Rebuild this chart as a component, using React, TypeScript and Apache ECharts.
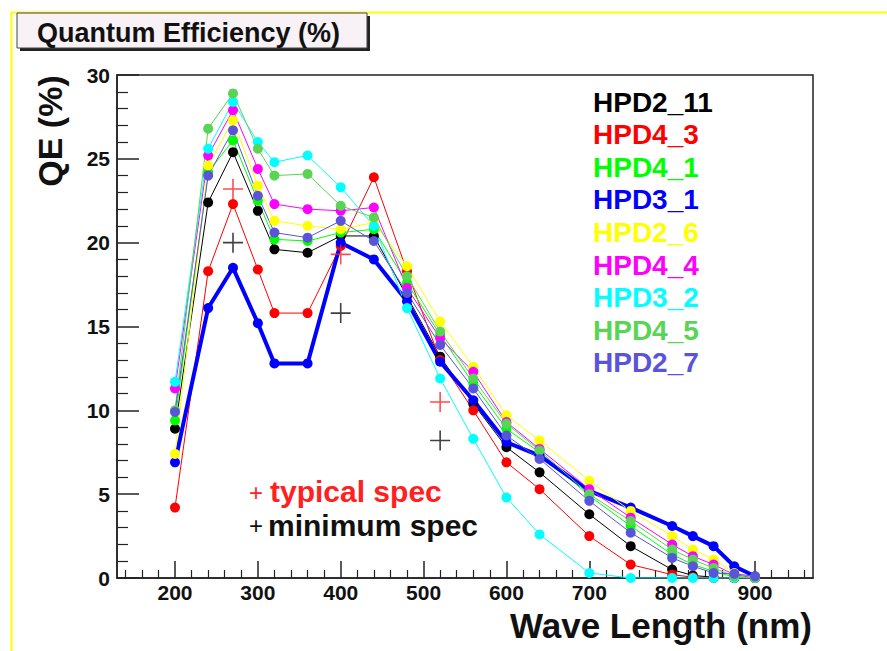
import React, { useEffect, useRef } from "react";
import * as echarts from "echarts";

// Wavelengths (nm) of the measured points
const wavelengths = [200, 240, 270, 300, 320, 360, 400, 440, 480, 520, 560, 600, 640, 700, 750, 800, 825, 850, 875, 900];

const seriesNames = ["HPD2_11", "HPD4_3", "HPD4_1", "HPD3_1", "HPD2_6", "HPD4_4", "HPD3_2", "HPD4_5", "HPD2_7"];
const seriesColors = ["#000000", "#ff0000", "#00ff00", "#0000ff", "#ffff00", "#ff00ff", "#00ffff", "#59d454", "#5954d9"];

const hpd2_11 = [8.9, 22.4, 25.4, 21.9, 19.6, 19.4, 20.4, 20.4, 16.8, 13.2, 10.4, 7.8, 6.3, 3.8, 1.9, 0.5, 0.15, 0.05, 0, 0];
const hpd4_3 = [4.2, 18.3, 22.3, 18.4, 15.8, 15.8, 19.8, 23.9, 18.3, 13.0, 10.0, 6.9, 5.3, 2.5, 0.8, 0.2, 0.05, 0, 0, 0];
const hpd4_1 = [9.4, 24.2, 26.1, 22.5, 20.2, 20.1, 20.6, 20.8, 17.6, 14.5, 11.6, 8.9, 7.5, 4.9, 3.1, 1.4, 0.8, 0.4, 0.05, 0];
const hpd3_1 = [6.9, 16.1, 18.5, 15.2, 12.8, 12.8, 20.0, 19.0, 16.5, 12.9, 10.6, 8.1, 7.3, 5.2, 4.2, 3.1, 2.5, 1.9, 0.7, 0.1];
const hpd2_6 = [7.4, 24.6, 27.3, 23.4, 21.3, 21.0, 20.8, 21.2, 18.6, 15.3, 12.6, 9.7, 8.2, 5.8, 4.0, 2.5, 1.7, 1.1, 0.3, 0.05];
const hpd4_4 = [11.3, 25.2, 27.9, 24.4, 22.3, 22.0, 21.9, 22.1, 17.3, 14.3, 12.3, 9.3, 7.7, 5.3, 3.6, 2.0, 1.3, 0.8, 0.2, 0];
const hpd3_2 = [11.7, 25.6, 28.4, 26.0, 24.8, 25.2, 23.3, 21.0, 16.1, 11.9, 8.3, 4.8, 2.6, 0.3, 0, 0, 0, 0, 0, 0];
const hpd4_5 = [10.0, 26.8, 28.9, 25.6, 24.0, 24.1, 22.2, 21.5, 18.0, 14.7, 11.9, 9.2, 7.6, 5.0, 3.4, 1.7, 1.1, 0.6, 0.1, 0];
const hpd2_7 = [9.9, 24.0, 26.7, 22.8, 20.6, 20.3, 21.3, 20.1, 17.0, 13.9, 11.3, 8.5, 7.1, 4.6, 2.7, 1.2, 0.7, 0.3, 0.25, 0.1];
const seriesValues = [hpd2_11, hpd4_3, hpd4_1, hpd3_1, hpd2_6, hpd4_4, hpd3_2, hpd4_5, hpd2_7];

// Specification points
const specWavelengths = [270, 400, 520];
const typicalSpec = [23.2, 19.3, 10.5];
const minimumSpec = [20.0, 15.8, 8.2];

// Axis tick positions
const xMajorTicks = [200, 300, 400, 500, 600, 700, 800, 900];
const xMinorTicks = [140, 160, 180, 220, 240, 260, 280, 320, 340, 360, 380, 420, 440, 460, 480, 520, 540, 560, 580, 620, 640, 660, 680, 720, 740, 760, 780, 820, 840, 860, 880, 920, 940, 960];

const FONT = "'Liberation Sans', Arial, Helvetica, sans-serif";
const PLUS = "path://M9.2,0H10.8V9.2H20V10.8H10.8V20H9.2V10.8H0V9.2H9.2Z";

export default function App() {
  const ref = useRef<HTMLDivElement>(null);

  useEffect(() => {
    if (!ref.current) return;
    const chart = echarts.init(ref.current, null, { renderer: "svg" });

    const lineSeries = seriesNames.map((name, i) => ({
      name,
      type: "line",
      xAxisIndex: 0,
      yAxisIndex: 0,
      data: wavelengths.map((w, j) => [w, seriesValues[i][j]]),
      symbol: "circle",
      symbolSize: 10,
      showAllSymbol: true,
      lineStyle: { color: seriesColors[i], width: name === "HPD3_1" ? 4 : 1 },
      itemStyle: { color: seriesColors[i] },
      emphasis: { disabled: true },
    }));

    const option: any = {
      animation: false,
      backgroundColor: "#ffffff",
      grid: {
        left: 117,
        top: 75,
        width: 696,
        height: 503,
        show: true,
        borderColor: "#222",
        borderWidth: 1.5,
        backgroundColor: "transparent",
      },
      legend: {
        orient: "vertical",
        left: 583,
        top: 80.7,
        itemWidth: 0,
        itemHeight: 0,
        itemGap: 0,
        icon: "rect",
        itemStyle: { opacity: 0 },
        lineStyle: { opacity: 0 },
        selectedMode: false,
        data: seriesNames.map((n, i) => ({
          name: n,
          textStyle: { color: seriesColors[i] },
        })),
        textStyle: {
          fontFamily: FONT,
          fontWeight: "bold",
          fontSize: 28,
          lineHeight: 32.6,
        },
      },
      xAxis: [
        {
          type: "value",
          min: 130,
          max: 970,
          position: "bottom",
          axisLine: { show: true, onZero: false, lineStyle: { color: "#222", width: 1.5 } },
          axisTick: {
            show: true,
            inside: true,
            length: 17,
            customValues: xMajorTicks,
            lineStyle: { color: "#222", width: 1.5 },
          },
          axisLabel: {
            show: true,
            customValues: xMajorTicks,
            margin: 6,
            color: "#111",
            fontFamily: FONT,
            fontWeight: "bold",
            fontSize: 21,
            lineHeight: 17,
          },
          splitLine: { show: false },
        },
        {
          type: "value",
          min: 130,
          max: 970,
          position: "bottom",
          axisLine: { show: false },
          axisTick: {
            show: true,
            inside: true,
            length: 8,
            customValues: xMinorTicks,
            lineStyle: { color: "#222", width: 1.2 },
          },
          axisLabel: { show: false },
          splitLine: { show: false },
        },
      ],
      yAxis: {
        type: "value",
        min: 0,
        max: 30,
        interval: 5,
        axisLine: { show: true, lineStyle: { color: "#222", width: 1.5 } },
        axisTick: { show: true, inside: true, length: 22, lineStyle: { color: "#222", width: 1.5 } },
        minorTick: { show: true, splitNumber: 5, length: 11, lineStyle: { color: "#222", width: 1.2 } },
        axisLabel: {
          margin: 7,
          color: "#111",
          fontFamily: FONT,
          fontWeight: "bold",
          fontSize: 21,
        },
        splitLine: { show: false },
        minorSplitLine: { show: false },
      },
      series: [
        ...lineSeries,
        {
          name: "typical spec",
          type: "scatter",
          xAxisIndex: 0,
          data: specWavelengths.map((w, j) => [w, typicalSpec[j]]),
          symbol: PLUS,
          symbolSize: 20,
          itemStyle: { color: "#ff2020" },
          z: 5,
          emphasis: { disabled: true },
        },
        {
          name: "minimum spec",
          type: "scatter",
          xAxisIndex: 0,
          data: specWavelengths.map((w, j) => [w, minimumSpec[j]]),
          symbol: PLUS,
          symbolSize: 20,
          itemStyle: { color: "#111" },
          z: 5,
          emphasis: { disabled: true },
        },
      ],
      graphic: [
        {
          type: "polyline",
          shape: { points: [[11.5, 651], [11.5, 12.5], [887, 12.5]] },
          style: { stroke: "#ffff00", lineWidth: 2, fill: "none" },
          z: 0,
        },
        {
          type: "rect",
          shape: { x: 20, y: 16, width: 350, height: 35 },
          style: { fill: "#222" },
          z: 1,
        },
        {
          type: "rect",
          shape: { x: 17, y: 13, width: 350, height: 35 },
          style: { fill: "#f8f2f6", stroke: "#444", lineWidth: 1 },
          z: 2,
        },
        {
          type: "text",
          x: 37,
          y: 32.5,
          style: {
            text: "Quantum Efficiency (%)",
            fontFamily: FONT,
            fontWeight: "bold",
            fontSize: 27,
            fill: "#111",
            align: "left",
            verticalAlign: "middle",
          },
          z: 3,
        },
        {
          type: "text",
          x: 50,
          y: 131,
          rotation: Math.PI / 2,
          style: {
            text: "QE (%)",
            fontFamily: FONT,
            fontWeight: "bold",
            fontSize: 34,
            fill: "#111",
            align: "center",
            verticalAlign: "middle",
          },
        },
        {
          type: "text",
          x: 812,
          y: 625,
          style: {
            text: "Wave Length (nm)",
            fontFamily: FONT,
            fontWeight: "bold",
            fontSize: 35,
            lineHeight: 28,
            fill: "#111",
            align: "right",
            verticalAlign: "middle",
          },
        },
        {
          type: "text",
          x: 256,
          y: 492,
          style: {
            text: "+",
            fontFamily: FONT,
            fontSize: 24,
            fill: "#ff2020",
            align: "center",
            verticalAlign: "middle",
          },
        },
        {
          type: "text",
          x: 270,
          y: 491,
          style: {
            text: "typical spec",
            fontFamily: FONT,
            fontWeight: "bold",
            fontSize: 30,
            fill: "#ff2020",
            align: "left",
            verticalAlign: "middle",
          },
        },
        {
          type: "text",
          x: 256,
          y: 525,
          style: {
            text: "+",
            fontFamily: FONT,
            fontSize: 24,
            fill: "#111",
            align: "center",
            verticalAlign: "middle",
          },
        },
        {
          type: "text",
          x: 268,
          y: 525.2,
          style: {
            text: "minimum spec",
            fontFamily: FONT,
            fontWeight: "bold",
            fontSize: 30,
            fill: "#111",
            align: "left",
            verticalAlign: "middle",
          },
        },
      ],
    };

    chart.setOption(option);
    return () => {
      chart.dispose();
    };
  }, []);

  return (
    <div
      ref={ref}
      style={{ position: "fixed", left: 0, top: 0, width: 887, height: 651, background: "#fff" }}
    />
  );
}
